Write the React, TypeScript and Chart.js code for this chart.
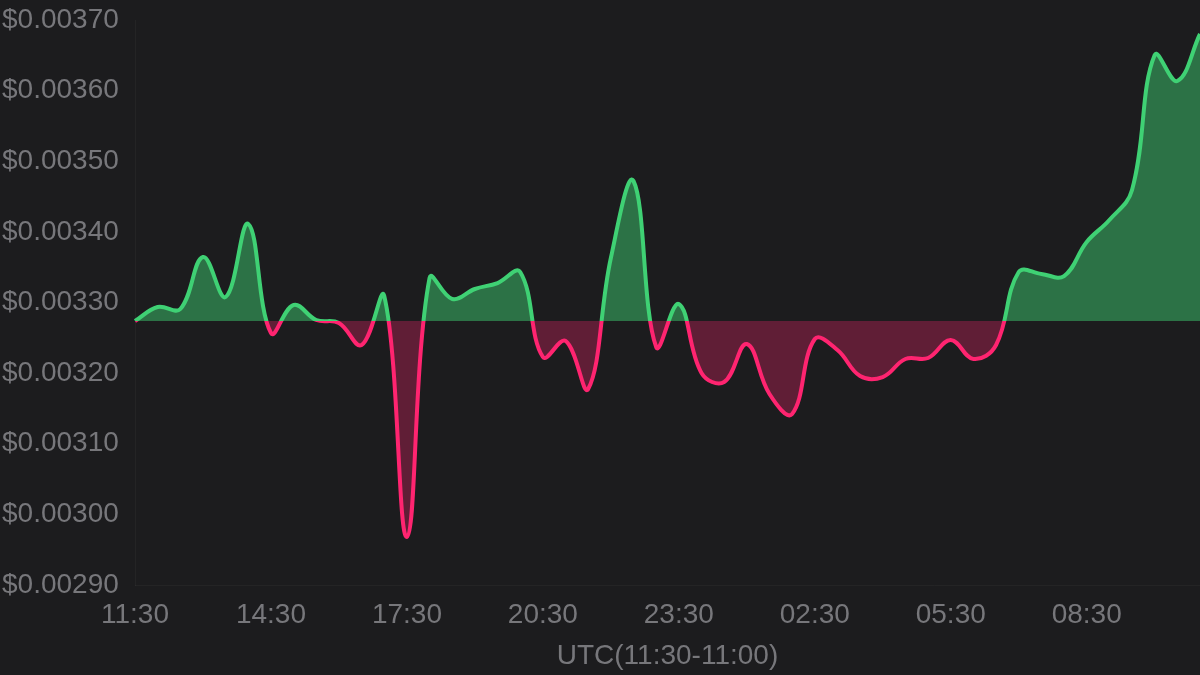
import React, { useEffect, useRef } from "react";
import Chart from "chart.js/auto";

// half-hour samples, 11:30 -> 11:00 next day
const times = [
  "11:30", "12:00", "12:30", "13:00", "13:30", "14:00", "14:30", "15:00",
  "15:30", "16:00", "16:30", "17:00", "17:30", "18:00", "18:30", "19:00",
  "19:30", "20:00", "20:30", "21:00", "21:30", "22:00", "22:30", "23:00",
  "23:30", "00:00", "00:30", "01:00", "01:30", "02:00", "02:30", "03:00",
  "03:30", "04:00", "04:30", "05:00", "05:30", "06:00", "06:30", "07:00",
  "07:30", "08:00", "08:30", "09:00", "09:30", "10:00", "10:30", "11:00",
];

const prices = [
  0.0032738, 0.0032936, 0.0032908, 0.0033644, 0.0033078, 0.0034112, 0.0032568, 0.0032965,
  0.0032752, 0.003271, 0.0032398, 0.0033092, 0.002968, 0.0033347, 0.003305, 0.0033191,
  0.0033276, 0.0033432, 0.0032228, 0.0032455, 0.0031775, 0.003363, 0.003472, 0.003237,
  0.0032979, 0.0032002, 0.0031874, 0.0032412, 0.0031704, 0.0031421, 0.0032483, 0.0032327,
  0.0031959, 0.0031945, 0.00322, 0.0032214, 0.0032469, 0.00322, 0.0032398, 0.0033432,
  0.0033404, 0.0033375, 0.0033857, 0.0034168, 0.0034593, 0.0036504, 0.0036136, 0.0036802,
];

const xTickLabels = ["11:30", "14:30", "17:30", "20:30", "23:30", "02:30", "05:30", "08:30"];

const yTickValues = [
  0.0029, 0.003, 0.0031, 0.0032, 0.0033, 0.0034, 0.0035, 0.0036, 0.0037,
];

const xTitle = "UTC(11:30-11:00)";

const BG = "#1c1c1e";
const TEXT = "#77777b";
const UP = "#3fd174";
const DOWN = "#ff2470";
const UP_FILL = "rgba(63, 209, 116, 0.48)";
const DOWN_FILL = "rgba(255, 36, 112, 0.3)";
const FONT = "'Liberation Sans', Arial, sans-serif";

const App: React.FC = () => {
  const canvasRef = useRef<HTMLCanvasElement | null>(null);

  useEffect(() => {
    document.body.style.margin = "0";
    document.body.style.background = BG;
    if (!canvasRef.current) return;

    const baseline = prices[0];

    // line colour switches exactly where the curve crosses the opening price
    const lineColor = (ctx: any) => {
      const chart = ctx.chart;
      const { chartArea, scales } = chart;
      if (!chartArea || !scales.y) return UP;
      const yBase = scales.y.getPixelForValue(baseline);
      const h = chartArea.bottom - chartArea.top;
      const stop = Math.min(1, Math.max(0, (yBase - chartArea.top) / h));
      const g = chart.ctx.createLinearGradient(0, chartArea.top, 0, chartArea.bottom);
      g.addColorStop(0, UP);
      g.addColorStop(stop, UP);
      g.addColorStop(stop, DOWN);
      g.addColorStop(1, DOWN);
      return g;
    };

    const chart = new Chart(canvasRef.current, {
      type: "line",
      data: {
        labels: times,
        datasets: [
          {
            data: prices,
            borderColor: lineColor,
            borderWidth: 4,
            tension: 0.4,
            pointRadius: 0,
            pointHoverRadius: 0,
            fill: {
              target: { value: baseline },
              above: UP_FILL,
              below: DOWN_FILL,
            },
          },
        ],
      },
      options: {
        animation: false,
        responsive: true,
        maintainAspectRatio: false,
        layout: { padding: { top: 20, left: 2, right: 0, bottom: 0 } },
        plugins: {
          legend: { display: false },
          tooltip: { enabled: false },
        },
        scales: {
          x: {
            type: "category",
            grid: { color: "transparent", drawTicks: false },
            border: { display: true, color: "rgba(255,255,255,0.035)", width: 1 },
            ticks: {
              autoSkip: false,
              maxRotation: 0,
              minRotation: 0,
              padding: 13,
              color: TEXT,
              font: { family: FONT, size: 28 },
              callback: (_v: any, i: number) =>
                xTickLabels.includes(times[i]) ? times[i] : "",
            },
            title: {
              display: true,
              text: xTitle,
              color: TEXT,
              font: { family: FONT, size: 28 },
              padding: { top: 4, bottom: 2 },
            },
            afterFit: (scale: any) => {
              scale.height = 90;
              scale.paddingLeft = 0;
              scale.paddingRight = 0;
            },
          },
          y: {
            min: 0.0029,
            max: 0.0037,
            grid: { color: "transparent", drawTicks: false },
            border: { display: true, color: "rgba(255,255,255,0.035)", width: 1 },
            afterBuildTicks: (scale: any) => {
              scale.ticks = yTickValues.map((v) => ({ value: v }));
            },
            ticks: {
              crossAlign: "far",
              color: TEXT,
              font: { family: FONT, size: 28 },
              callback: (v: any) => `$${Number(v).toFixed(5)}`,
            },
            afterFit: (scale: any) => {
              scale.width = 133;
            },
          },
        },
      },
    });

    return () => {
      chart.destroy();
    };
  }, []);

  return (
    <div style={{ position: "relative", width: 1200, height: 675, background: BG }}>
      <canvas ref={canvasRef} />
    </div>
  );
};

export default App;
